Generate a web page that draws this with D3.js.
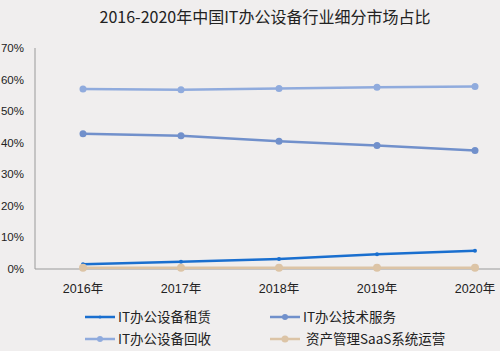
<!DOCTYPE html>
<html>
<head>
<meta charset="utf-8">
<script src="https://cdn.jsdelivr.net/npm/d3@7"></script>
<style>
  body { margin: 0; background: #f0eeee; }
  text { font-family: "Noto Sans CJK SC", "Noto Sans", sans-serif; fill: #222; }
  .ylab, .xlab { font-family: "Liberation Sans", "Noto Sans CJK SC", sans-serif; }
</style>
</head>
<body>
<div id="chart"></div>
<script>
let w = 500;
let h = 351;

let years = ["2016年", "2017年", "2018年", "2019年", "2020年"];
let yTicks = [0, 10, 20, 30, 40, 50, 60, 70];

let seriesNames = ["IT办公设备租赁", "IT办公技术服务", "IT办公设备回收", " 资产管理SaaS系统运营"];
let rental = [1.5, 2.3, 3.2, 4.7, 5.8];
let techService = [42.8, 42.2, 40.5, 39.1, 37.5];
let recycle = [57.0, 56.8, 57.2, 57.6, 57.8];
let saas = [0.4, 0.4, 0.4, 0.4, 0.4];

let colors = ["#1a6fcf", "#7190cb", "#90abdd", "#dcc4a6"];
let radii = [2, 3.5, 3.5, 4];

let series = [rental, techService, recycle, saas];

let svg = d3.select("#chart")
  .append("svg")
  .attr("width", w)
  .attr("height", h)
  .style("background-color", "#f0eeee");

// title
svg.append("text")
  .attr("x", 265)
  .attr("y", 23)
  .attr("text-anchor", "middle")
  .style("font-size", "16px")
  .text("2016-2020年中国IT办公设备行业细分市场占比");

let xScale = d3.scalePoint().domain(years).range([83, 475]);
let yScale = d3.scaleLinear().domain([0, 70]).range([269, 48]);

// y axis line
svg.append("line")
  .attr("x1", 35).attr("x2", 35)
  .attr("y1", yScale(70)).attr("y2", yScale(0))
  .attr("stroke", "#9a9a9a").attr("stroke-width", 1);

// x axis line
svg.append("line")
  .attr("x1", 35).attr("x2", 500)
  .attr("y1", yScale(0)).attr("y2", yScale(0))
  .attr("stroke", "#9a9a9a").attr("stroke-width", 1);

// y tick labels
svg.selectAll(".ylab").data(yTicks).enter()
  .append("text")
  .attr("class", "ylab")
  .attr("x", 24)
  .attr("y", d => yScale(d) + 4)
  .attr("text-anchor", "end")
  .style("font-size", "11.5px")
  .text(d => d + "%");

// x labels
svg.selectAll(".xlab").data(years).enter()
  .append("text")
  .attr("class", "xlab")
  .attr("x", d => xScale(d))
  .attr("y", 293)
  .attr("text-anchor", "middle")
  .style("font-size", "12.5px")
  .text(d => d);

let line = d3.line()
  .x((d, i) => xScale(years[i]))
  .y(d => yScale(d));

// draw series, saas last so it sits on top at the bottom
let order = [2, 1, 0, 3];
order.forEach(function(k){
  let g = svg.append("g");
  g.append("path")
    .datum(series[k])
    .attr("d", line)
    .attr("fill", "none")
    .attr("stroke", colors[k])
    .attr("stroke-width", 2.5);
  g.selectAll("circle").data(series[k]).enter()
    .append("circle")
    .attr("cx", (d, i) => xScale(years[i]))
    .attr("cy", d => yScale(d))
    .attr("r", radii[k])
    .attr("fill", colors[k]);
});

// legend
let legendPos = [
  {x: 85, y: 317},
  {x: 270, y: 317},
  {x: 85, y: 339},
  {x: 270, y: 339}
];
seriesNames.forEach(function(name, k){
  let p = legendPos[k];
  let g = svg.append("g").attr("transform", "translate(" + p.x + "," + p.y + ")");
  g.append("line")
    .attr("x1", 0).attr("x2", 30)
    .attr("y1", 0).attr("y2", 0)
    .attr("stroke", colors[k])
    .attr("stroke-width", 2.5);
  g.append("circle")
    .attr("cx", 15).attr("cy", 0)
    .attr("r", radii[k] - 0.5)
    .attr("fill", colors[k]);
  g.append("text")
    .attr("x", 33)
    .attr("y", 5)
    .style("font-size", "13.5px")
    .style("white-space", "pre")
    .attr("xml:space", "preserve")
    .text(name);
});
</script>
</body>
</html>
